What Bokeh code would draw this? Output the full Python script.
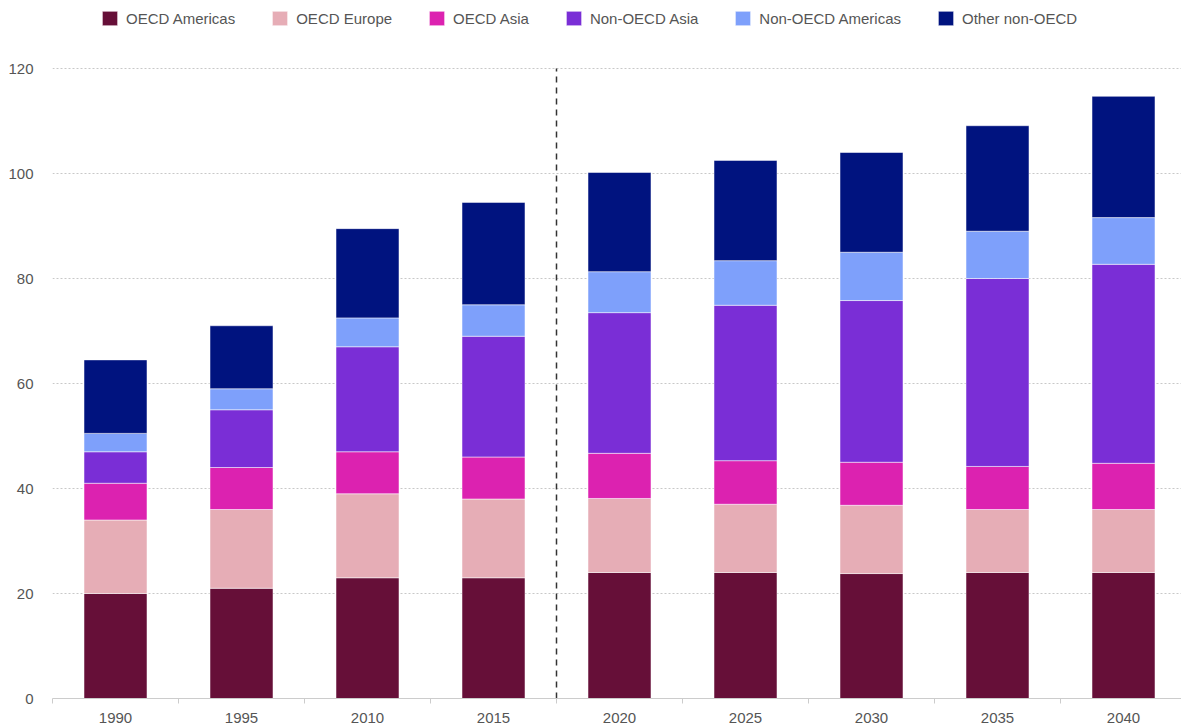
import numpy as np
from bokeh.plotting import figure
from bokeh.models import (ColumnDataSource, Range1d, FixedTicker, Legend,
                          LegendItem)
from bokeh.embed import file_html
from bokeh.resources import INLINE

# Energy demand by region (stacked), historical and projected
years = ["1990", "1995", "2010", "2015", "2020", "2025", "2030", "2035", "2040"]
oecd_americas = [20, 21, 23, 23, 24, 24, 23.8, 24, 24]
oecd_europe = [14, 15, 16, 15, 14.1, 13, 13, 12, 12]
oecd_asia = [7, 8, 8, 8, 8.6, 8.3, 8.2, 8.2, 8.8]
non_oecd_asia = [6, 11, 20, 23, 26.8, 29.6, 30.8, 35.8, 37.9]
non_oecd_americas = [3.5, 4, 5.5, 6, 7.8, 8.5, 9.2, 9, 8.9]
other_non_oecd = [14, 12, 17, 19.5, 18.9, 19.1, 19.0, 20.1, 23.1]

series_names = ["OECD Americas", "OECD Europe", "OECD Asia", "Non-OECD Asia",
                "Non-OECD Americas", "Other non-OECD"]
series_keys = ["oecd_americas", "oecd_europe", "oecd_asia", "non_oecd_asia",
               "non_oecd_americas", "other_non_oecd"]
colors = ["#660f38", "#e6adb6", "#dc22b0", "#7a2ed6", "#7ea0fb", "#00137f"]
y_ticks = [0, 20, 40, 60, 80, 100, 120]
n_historical = 4  # 1990-2015 are history, the rest projections

FONT = "Liberation Sans"
TEXT = "#555555"

W, H = 1181, 727
LEFT, BOTTOM = 52, 29
CAT_PX = 126            # width of one category slot in pixels
TOP_GAP_PX = 68         # room above the 120 line for the legend row

frame_h = H - BOTTOM
y_top = max(y_ticks) * frame_h / (frame_h - TOP_GAP_PX)

x = np.arange(len(years)) + 0.5
src = ColumnDataSource(dict(
    x=x,
    oecd_americas=oecd_americas,
    oecd_europe=oecd_europe,
    oecd_asia=oecd_asia,
    non_oecd_asia=non_oecd_asia,
    non_oecd_americas=non_oecd_americas,
    other_non_oecd=other_non_oecd,
))

p = figure(width=W, height=H, output_backend="svg", toolbar_location=None,
           x_range=Range1d(0, (W - LEFT) / CAT_PX), y_range=Range1d(0, y_top),
           min_border_left=LEFT, min_border_right=0, min_border_top=0,
           min_border_bottom=BOTTOM)
p.outline_line_color = None
p.background_fill_color = "white"
p.border_fill_color = "white"

renderers = p.vbar_stack(series_keys, x="x", width=0.5, source=src,
                         fill_color=colors, line_color="white",
                         line_alpha=0.5, line_width=1)

# divider between history and projection
p.segment(x0=[n_historical], y0=[0], x1=[n_historical], y1=[max(y_ticks)],
          line_color="#333333", line_width=1.5, line_dash="6 5")

# x axis: labels at bar centres, ticks at category boundaries
xa = p.xaxis[0]
xa.ticker = FixedTicker(ticks=list(x), minor_ticks=list(range(len(years) + 1)))
xa.major_label_overrides = {float(v): y for v, y in zip(x, years)}
xa.major_tick_out = 0
xa.major_tick_in = 0
xa.minor_tick_out = 5
xa.minor_tick_in = 0
xa.minor_tick_line_color = "#cccccc"
xa.axis_line_color = "#cccccc"
xa.major_label_text_font = FONT
xa.major_label_text_font_size = "15px"
xa.major_label_text_color = TEXT
xa.major_label_standoff = 9

ya = p.yaxis[0]
ya.ticker = FixedTicker(ticks=y_ticks)
ya.axis_line_color = None
ya.major_tick_line_color = None
ya.major_tick_out = 0
ya.major_tick_in = 0
ya.minor_tick_line_color = None
ya.major_label_text_font = FONT
ya.major_label_text_font_size = "15px"
ya.major_label_text_color = TEXT
ya.major_label_standoff = 19

p.xgrid.grid_line_color = None
p.ygrid.ticker = FixedTicker(ticks=y_ticks)
p.ygrid.grid_line_color = "#c8c8c8"
p.ygrid.grid_line_dash = "2 2"

# legend row above the 120 line (area swatches are drawn at 80% of the glyph box)
GW, GH = 19, 18
legend = Legend(
    items=[LegendItem(label=n, renderers=[r]) for n, r in zip(series_names, renderers)],
    orientation="horizontal", location=(100 - LEFT, frame_h - 9 - GH),
    label_text_font=FONT, label_text_font_size="15px", label_text_color=TEXT,
    glyph_width=GW, glyph_height=GH, label_height=GH, label_standoff=7,
    spacing=35, padding=0, margin=0, border_line_color=None,
    background_fill_alpha=0,
)
p.add_layout(legend)

open("out.html", "w").write(file_html(p, INLINE))
